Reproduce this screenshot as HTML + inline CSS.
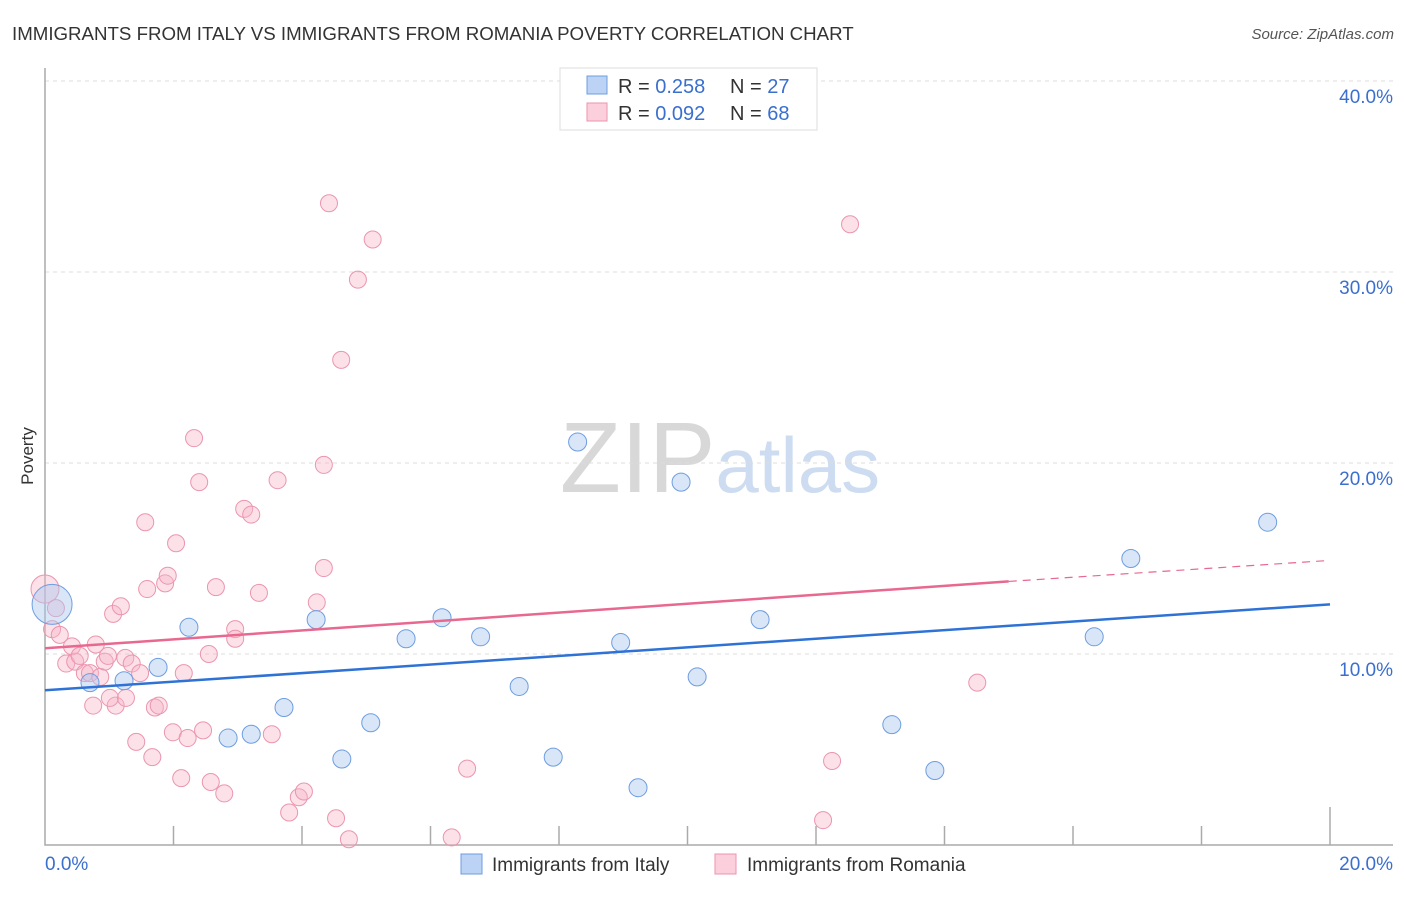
<!DOCTYPE html>
<html><head><meta charset="utf-8"><style>
body{margin:0;background:#fff;font-family:"Liberation Sans",sans-serif;}
svg text{font-family:"Liberation Sans",sans-serif;}
</style></head><body>
<svg id="chart" width="1406" height="892" xmlns="http://www.w3.org/2000/svg">
<text x="12" y="40" font-size="18.7" fill="#333">IMMIGRANTS FROM ITALY VS IMMIGRANTS FROM ROMANIA POVERTY CORRELATION CHART</text>
<text x="1394" y="39" font-size="15" fill="#555" text-anchor="end" font-style="italic">Source: ZipAtlas.com</text>
<text x="720" y="492" font-size="100" text-anchor="middle" fill="#ddd" font-family="Liberation Serif"><tspan fill="#d8d8d8">ZIP</tspan><tspan fill="#cddcf0" font-family="Liberation Sans" font-size="78">atlas</tspan></text>
<text transform="translate(33,456) rotate(-90)" font-size="17" fill="#333" text-anchor="middle">Poverty</text>
<g id="grid"></g><g id="axes"></g><g id="pts"></g><g id="lines"></g>
<g>
<rect x="560" y="68" width="257" height="62" fill="#fff" stroke="#ddd"/>
<rect x="587" y="76" width="20" height="18" fill="#bdd3f5" stroke="#6d9de0"/>
<text x="618" y="93" font-size="20" fill="#333">R = <tspan fill="#3a6fcf">0.258</tspan></text>
<text x="730" y="93" font-size="20" fill="#333">N = <tspan fill="#3a6fcf">27</tspan></text>
<rect x="587" y="103" width="20" height="18" fill="#fbd0dc" stroke="#eb95ae"/>
<text x="618" y="120" font-size="20" fill="#333">R = <tspan fill="#3a6fcf">0.092</tspan></text>
<text x="730" y="120" font-size="20" fill="#333">N = <tspan fill="#3a6fcf">68</tspan></text>
</g>
<g>
<rect x="461" y="854" width="21" height="20" fill="#bdd3f5" stroke="#6d9de0"/>
<text x="492" y="871" font-size="19" fill="#333">Immigrants from Italy</text>
<rect x="715" y="854" width="21" height="20" fill="#fbd0dc" stroke="#eb95ae"/>
<text x="747" y="871" font-size="19" fill="#333">Immigrants from Romania</text>
</g>
</svg>
<script>
const yTicks=[10,20,30,40];
const yTickLabels=["10.0%","20.0%","30.0%","40.0%"];
const italyX=[0.11,0.7,1.23,1.76,2.24,2.85,3.21,3.72,4.22,4.62,5.07,5.62,6.18,6.78,7.38,7.91,8.29,8.96,9.23,9.9,10.15,11.13,13.18,13.85,16.33,16.9,19.03];
const italyY=[12.6,8.5,8.6,9.3,11.4,5.6,5.8,7.2,11.8,4.5,6.4,10.8,11.9,10.9,8.3,4.6,21.1,10.6,3.0,19.0,8.8,11.8,6.3,3.9,10.9,15.0,16.9];
const italyR=[20,9,9,9,9,9,9,9,9,9,9,9,9,9,9,9,9,9,9,9,9,9,9,9,9,9,9];
const romX=[0,0.17,0.11,0.23,0.42,0.79,0.33,0.47,0.54,0.62,0.7,0.86,0.93,0.98,0.75,1.1,1.01,1.26,1.25,1.35,1.48,1.06,1.18,1.56,1.59,1.87,1.91,2.04,2.16,1.71,1.77,1.42,1.67,2.12,1.99,2.22,2.46,2.58,2.79,2.55,2.32,2.4,2.66,2.96,2.96,3.1,3.21,3.33,3.53,3.62,3.8,3.95,4.03,4.23,4.34,4.34,4.42,4.61,4.87,5.1,4.53,4.73,6.33,6.57,12.11,12.25,12.53,14.51];
const romY=[13.4,12.4,11.3,11.0,10.4,10.5,9.5,9.6,9.9,9.0,9.0,8.8,9.6,9.9,7.3,7.3,7.7,7.7,9.8,9.5,9.0,12.1,12.5,16.9,13.4,13.7,14.1,15.8,9.0,7.2,7.3,5.4,4.6,3.5,5.9,5.6,6.0,3.3,2.7,10.0,21.3,19.0,13.5,11.3,10.8,17.6,17.3,13.2,5.8,19.1,1.7,2.5,2.8,12.7,14.5,19.9,33.6,25.4,29.6,31.7,1.4,0.3,0.4,4.0,1.3,4.4,32.5,8.5];
const italyTrend=[8.1,12.6];
const romTrend=[10.3,13.8,14.9];
const X=v=>45+v/20*1285, Y=v=>845-v*19.1;
const NS="http://www.w3.org/2000/svg";
function mk(parent,tag,attrs){const e=document.createElementNS(NS,tag);for(const k in attrs)e.setAttribute(k,attrs[k]);document.getElementById(parent).appendChild(e);return e;}
yTicks.forEach((t,i)=>{
  const g=mk('grid','line',{x1:45,x2:1393,y1:Y(t),y2:Y(t),stroke:'#ddd','stroke-dasharray':'4,4'});
  
  
  const tx=mk('grid','text',{x:1393,y:Y(t)+22,'font-size':19,fill:'#3a6fcf','text-anchor':'end'});
  
  
  tx.textContent=yTickLabels[i];
});
const ax=mk('axes','path',{d:'M45,68 L45,845 L1393,845',fill:'none',stroke:'#aaa','stroke-width':1.5});


for(let i=1;i<=10;i++){const t=mk('axes','line',{x1:X(i*2),x2:X(i*2),y1:i==10?807:826,y2:845,stroke:'#aaa','stroke-width':1.5});

}
const x0=mk('axes','text',{x:45,y:870,'font-size':19,fill:'#3a6fcf'});


x0.textContent='0.0%';
const x1=mk('axes','text',{x:1393,y:870,'font-size':19,fill:'#3a6fcf','text-anchor':'end'});


x1.textContent='20.0%';
romX.forEach((v,i)=>{const c=mk('pts','circle',{cx:X(v),cy:Y(romY[i]),r:i==0?14:8.5,fill:'rgba(248,180,200,0.4)',stroke:'#eb95ae','stroke-width':1});

});
italyX.forEach((v,i)=>{const c=mk('pts','circle',{cx:X(v),cy:Y(italyY[i]),r:italyR[i],fill:'rgba(170,200,240,0.45)',stroke:'#6d9de0','stroke-width':1});

});
const l1=mk('lines','line',{x1:X(0),y1:Y(italyTrend[0]),x2:X(20),y2:Y(italyTrend[1]),stroke:'#2f72d6','stroke-width':2.5});


const l2=mk('lines','line',{x1:X(0),y1:Y(romTrend[0]),x2:X(15),y2:Y(romTrend[1]),stroke:'#e8688f','stroke-width':2.5});


const l3=mk('lines','line',{x1:X(15),y1:Y(romTrend[1]),x2:X(20),y2:Y(romTrend[2]),stroke:'#e8688f','stroke-width':1.2,'stroke-dasharray':'8,6'});


</script>
</body></html>
